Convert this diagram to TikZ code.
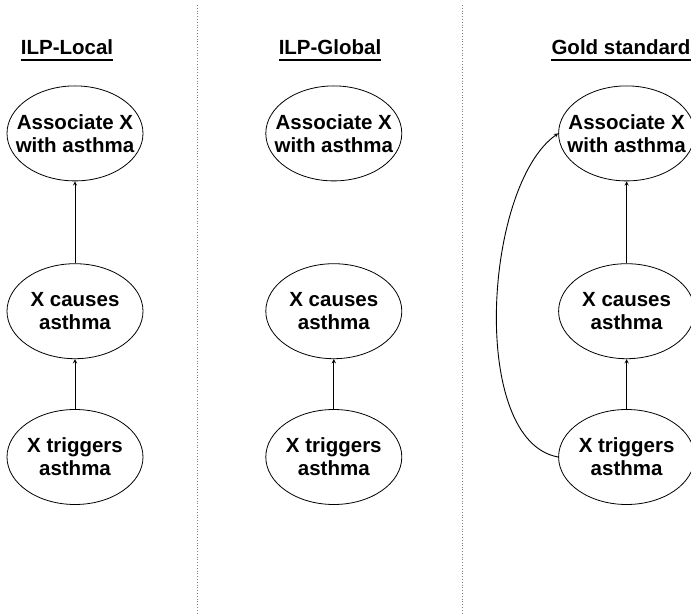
\documentclass[tikz,border=0pt]{standalone}
\usepackage{fontspec}
\setmainfont{Liberation Sans}
\usepackage{tikz}
\usetikzlibrary{shapes.geometric, arrows, positioning}
\tikzstyle{arrow} = [->,>=stealth,line width=0.9pt]
\tikzstyle{goal} = [draw, ellipse, line width=0.8pt, minimum width=136pt, minimum height=95pt, inner xsep=-12pt, inner ysep=0pt, align=center, font=\fontsize{20.5}{23}\selectfont\bfseries]
\tikzstyle{heading} = [inner sep=0pt, anchor=base, font=\fontsize{20.5}{23}\selectfont\bfseries]
\tikzstyle{divider} = [dotted, line width=0.8pt, gray]

\begin{document}
\begin{tikzpicture}[x=1pt, y=1pt]
        \useasboundingbox (0,0) rectangle (691,-615);
        % first column
        \node[goal] (T1) at (75,-457) {X triggers\\asthma};
        \node[goal, above=50pt of T1] (C1) {X causes\\asthma};
        \node[goal, above=82pt of C1] (A1) {Associate X\\with asthma};
        % second column
        \node[goal, right=122pt of A1] (A2) {Associate X\\with asthma};
        \node[goal, below=82pt of A2] (C2) {X causes\\asthma};
        \node[goal, below=50pt of C2] (T2) {X triggers\\asthma};
        % third column
        \node[goal, right=156pt of A2] (A3) {Associate X\\with asthma};
        \node[goal, below=82pt of A3] (C3) {X causes\\asthma};
        \node[goal, below=50pt of C3] (T3) {X triggers\\asthma};
        % headings
        \node[heading] (L1) at (67,-55) {ILP-Local};
        \node[heading] (L2) at (330,-55) {ILP-Global};
        \node[heading] (L3) at (621,-55) {Gold standard};
        \foreach \h in {L1, L2, L3}
            \draw[line width=2pt] ([yshift=-5pt]\h.base west) -- ([yshift=-5pt]\h.base east);
        % dividers
        \draw[divider] (197,-5) -- (197,-615);
        \draw[divider] (462,-5) -- (462,-615);
        \draw (T1) edge[arrow] (C1)
        (C1) edge[arrow] (A1)
        (T2) edge[arrow] (C2)
        (T3) edge[arrow] (C3)
        (C3) edge[arrow] (A3)
        (T3.west) edge[arrow, out=170, in=215, looseness=0.72] (A3.west);
    \end{tikzpicture}
\end{document}
